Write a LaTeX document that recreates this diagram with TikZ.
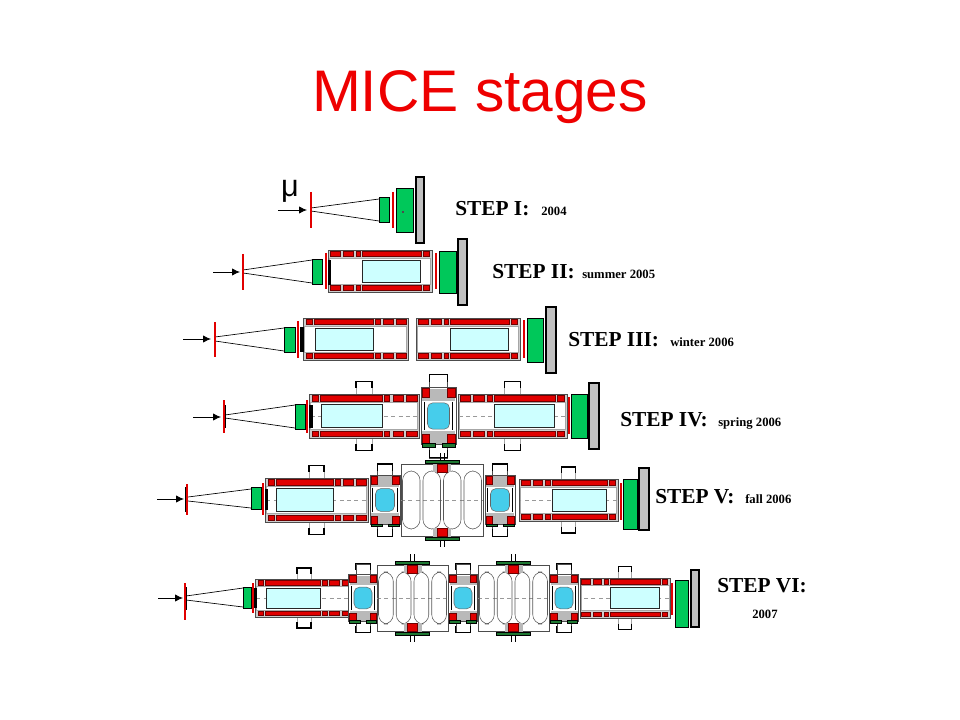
\documentclass[tikz,border=0pt]{standalone}
\usepackage{fontspec}
\setmainfont{Liberation Serif}
\newfontfamily\sansfam{Liberation Sans}
\usetikzlibrary{arrows.meta}
\definecolor{mtitle}{RGB}{238,0,0}
\definecolor{mred}{RGB}{225,0,0}
\definecolor{mdred}{RGB}{110,0,0}
\definecolor{mgreen}{RGB}{0,200,90}
\definecolor{mdgreen}{RGB}{30,120,50}
\definecolor{mgrey}{RGB}{192,192,192}
\definecolor{mframe}{RGB}{205,205,205}
\definecolor{mcyan}{RGB}{205,255,255}
\definecolor{mlens}{RGB}{70,205,235}
\tikzset{
  coil/.style={fill=mred, draw=mdred, line width=0.35pt},
  gbox/.style={fill=mgreen, draw=black, line width=0.5pt},
  plate/.style={fill=mgrey, draw=black, line width=1.6pt},
  rline/.style={draw=mred, line width=1.5pt},
  bbar/.style={fill=black},
  cbox/.style={fill=mcyan, draw=black!85, line width=0.5pt},
  beamline/.style={draw=black, line width=0.5pt},
  inarrow/.style={draw=black, line width=0.6pt, -{Latex[length=6pt,width=5.5pt]}},
  steplbl/.style={font=\fontsize{16}{18}\selectfont\bfseries, anchor=base west, inner sep=0pt},
  yearlbl/.style={font=\fontsize{9.5}{11}\selectfont\bfseries, anchor=base west, inner sep=0pt},
  bumpline/.style={draw=black, line width=1.1pt},
  cline/.style={draw=gray!80, line width=0.4pt, dash pattern=on 3pt off 2.5pt},
  outl/.style={draw=gray!60!black, line width=0.4pt},
  gbar/.style={fill=mdgreen, draw=black, line width=0.3pt},
}
% solenoid: x0, width, yc, height, direction (1 / -1), details (0/1)
\newcommand{\sol}[6]{%
\begin{scope}[shift={({#1+(1-(#5))/2*#2},#3)}, xscale={(#5)*#2/105}, yscale={#4/42}]
  \ifnum#6=1
    \fill[white] (45,-33) rectangle (60,-21);
    \fill[white] (45,21) rectangle (60,33);
    \draw[gray!70] (45,-21)--(45,-33)--(60,-33)--(60,-21);
    \draw[gray!70] (45,21)--(45,33)--(60,33)--(60,21);
    \draw[bumpline] (45,-27)--(45,-33)--(60,-33)--(60,-27);
    \draw[bumpline] (45,27)--(45,33)--(60,33)--(60,27);
  \fi
  \fill[mframe] (0,-21) rectangle (105,21);
  \draw[outl] (0,-21) rectangle (105,21);
  \fill[white] (1.5,-13) rectangle (103.5,13);
  \draw[gray!70, line width=0.3pt] (1.5,-13) rectangle (103.5,13);
  \ifnum#6=1 \draw[cline] (1.5,0) -- (103.5,0); \fi
  \foreach \a/\b in {3/9,11/70,72/77,80/90,93/103}{%
    \draw[coil] (\a,-19.5) rectangle (\b,-14.5);
    \draw[coil] (\a,14.5) rectangle (\b,19.5);}
  \draw[cbox] (12,-11) rectangle (70,11);
\end{scope}}
% absorber module: xc, yc, scale
\newcommand{\afc}[3]{%
\begin{scope}[shift={(#1,#2)}, scale=#3]
  \draw[fill=white, outl] (-8,-38) rectangle (8,-26);
  \draw[fill=white, outl] (-8,26) rectangle (8,38);
  \draw[black, line width=0.9pt] (-8,-31)--(-8,-38)--(8,-38)--(8,-31);
  \draw[black, line width=0.9pt] (-8,31)--(-8,38)--(8,38)--(8,31);
  \draw[fill=white, outl] (-16,-26) rectangle (16,26);
  \fill[gray!55] (-15,-25) rectangle (15,-14);
  \fill[gray!55] (-15,14) rectangle (15,25);
  \draw[coil] (-15,-25) rectangle (-8,-17);
  \draw[coil] (8,-25) rectangle (15,-17);
  \draw[coil] (-15,17) rectangle (-8,25);
  \draw[coil] (8,17) rectangle (15,25);
  \draw[black, line width=0.6pt] (-13,-13)--(-13,13) (13,-13)--(13,13);
  \draw[fill=mlens, draw=black!60, line width=0.4pt, rounded corners=4pt] (-10,-12) rectangle (10,12);
  \draw[gbar] (-15,25) rectangle (-3,28);
  \draw[gbar] (3,25) rectangle (15,28);
\end{scope}}
% RF module: x0, x1, yc, half height
\newcommand{\rf}[4]{%
\begin{scope}
  \pgfmathsetmacro\rfw{(#2-#1)/4}
  \pgfmathsetmacro\rfm{(#1+#2)/2}
  \draw[fill=white, outl] (#1,{#3-#4}) rectangle (#2,{#3+#4});
  \draw[cline] (#1,#3) -- (#2,#3);
  \foreach \i in {0,1,2,3}{%
    \draw[draw=gray!70!black, line width=0.4pt, rounded corners=7pt] ({#1+\i*\rfw+1.5},{#3-#4+7}) rectangle ({#1+(\i+1)*\rfw-1.5},{#3+#4-7});}
  \fill[gray!55] ({\rfm-9},{#3-#4-1}) rectangle ({\rfm+9},{#3-#4+8});
  \draw[coil] ({\rfm-5},{#3-#4}) rectangle ({\rfm+5},{#3-#4+8});
  \draw[gbar] ({\rfm-17},{#3-#4-4}) rectangle ({\rfm+17},{#3-#4-1});
  \draw[black, line width=0.6pt] ({\rfm-2},{#3-#4-4}) -- ({\rfm-2},{#3-#4-11}) ({\rfm+2},{#3-#4-4}) -- ({\rfm+2},{#3-#4-11});
  \fill[gray!55] ({\rfm-9},{#3+#4+1}) rectangle ({\rfm+9},{#3+#4-8});
  \draw[coil] ({\rfm-5},{#3+#4}) rectangle ({\rfm+5},{#3+#4-8});
  \draw[gbar] ({\rfm-17},{#3+#4+4}) rectangle ({\rfm+17},{#3+#4+1});
  \draw[black, line width=0.6pt] ({\rfm-2},{#3+#4+4}) -- ({\rfm-2},{#3+#4+11}) ({\rfm+2},{#3+#4+4}) -- ({\rfm+2},{#3+#4+11});
\end{scope}}
\begin{document}
\begin{tikzpicture}[x=0.75pt, y=-0.75pt]
\path[use as bounding box, fill=white] (0,0) rectangle (960,720);
\node[font=\sansfam\fontsize{44}{44}\selectfont, text=mtitle, anchor=base, inner sep=0pt] (title) at (480,112) {MICE stages};

% ---------- STEP I ----------
\node[font=\sansfam\fontsize{23}{23}\selectfont, anchor=base, inner sep=0pt] (mu) at (290,197) {μ};
\coordinate (a1s) at (278,210); \coordinate (a1e) at (307,210);
\draw[inarrow] (a1s) -- (a1e);
\draw[beamline] (311,208) -- (379,199) (311,211) -- (379,221);
\draw[rline] (311,192) -- (311,228);
\draw[gbox] (379,197) rectangle (389,222);
\draw[rline] (393,192) -- (393,228);
\draw[gbox] (396,188) rectangle (413,232);
\fill[black!70] (402,211) rectangle (404,213);
\draw[plate] (416,177) rectangle (424,243);
\node[steplbl] (s1) at (455,216) {STEP I:};
\node[yearlbl] (y1) at (541,216) {2004};

% ---------- STEP II ----------
\coordinate (a2s) at (213,272); \coordinate (a2e) at (240,272);
\draw[inarrow] (a2s) -- (a2e);
\draw[beamline] (243,270) -- (312,260) (243,273) -- (312,283);
\draw[rline] (243,254) -- (243,290);
\draw[gbox] (312,259) rectangle (322,284);
\draw[rline] (326,253) -- (326,289);
\sol{328}{104}{271}{42}{-1}{0}
\fill[black] (328,260) rectangle (331,285);
\draw[rline] (436,253) -- (436,289);
\draw[gbox] (439,251) rectangle (456,293);
\draw[plate] (458,239) rectangle (467,305);
\node[steplbl] (s2) at (492,279) {STEP II:};
\node[yearlbl] (y2) at (582,279) {summer 2005};

% ---------- STEP III ----------
\coordinate (a3s) at (183,339); \coordinate (a3e) at (211,339);
\draw[inarrow] (a3s) -- (a3e);
\draw[beamline] (215,337) -- (284,328) (215,341) -- (284,351);
\draw[rline] (215,322) -- (215,357);
\draw[gbox] (284,327) rectangle (295,352);
\draw[rline] (298,321) -- (298,358);
\sol{303}{105}{339}{42}{1}{0}
\sol{416}{104}{339}{42}{-1}{0}
\fill[black] (300,327) rectangle (304,352);
\draw[rline] (524,320) -- (524,358);
\draw[gbox] (527,318) rectangle (543,362);
\draw[plate] (546,307) rectangle (556,373);
\node[steplbl] (s3) at (568,346) {STEP III:};
\node[yearlbl] (y3) at (670,346) {winter 2006};

% ---------- STEP IV ----------
\coordinate (a4s) at (193,417); \coordinate (a4e) at (221,417);
\draw[inarrow] (a4s) -- (a4e);
\draw[beamline] (225,415) -- (295,405) (225,418) -- (295,428);
\fill[black] (223,405) rectangle (226,428);
\draw[rline] (224,400) -- (224,433);
\draw[gbox] (295,404) rectangle (305,429);
\draw[rline] (307,400) -- (307,433);
\sol{309}{110}{416}{44}{1}{1}
\fill[black] (309,405) rectangle (313,428);
\afc{438.5}{416}{1.1}
\sol{458}{109}{416}{44}{-1}{1}
\draw[rline] (569,397) -- (569,434);
\draw[gbox] (571,394) rectangle (587,438);
\draw[plate] (589,383) rectangle (599,449);
\node[steplbl] (s4) at (620,426) {STEP IV:};
\node[yearlbl] (y4) at (718,426) {spring 2006};

% ---------- STEP V ----------
\coordinate (a5s) at (157,499); \coordinate (a5e) at (184,499);
\draw[inarrow] (a5s) -- (a5e);
\draw[beamline] (188,497) -- (251,489) (188,501) -- (251,508);
\fill[black] (185,487) rectangle (188,512);
\draw[rline] (187,484) -- (187,515);
\draw[gbox] (251,487) rectangle (261,509);
\draw[rline] (263,483) -- (263,515);
\sol{265}{103}{500}{44}{1}{1}
\fill[black] (265,489) rectangle (268,510);
\afc{385}{500}{0.95}
\rf{401}{483}{500}{36}
\afc{500}{500}{0.95}
\sol{519}{99}{500}{42}{-1}{1}
\draw[rline] (621,483) -- (621,520);
\draw[gbox] (623,479) rectangle (637,529);
\draw[plate] (639,468) rectangle (649,530);
\node[steplbl] (s5) at (655,503) {STEP V:};
\node[yearlbl] (y5) at (745,503) {fall 2006};

% ---------- STEP VI ----------
\coordinate (a6s) at (158,598); \coordinate (a6e) at (183,598);
\draw[inarrow] (a6s) -- (a6e);
\draw[beamline] (186,596) -- (243,588) (186,600) -- (243,607);
\fill[black] (184,587) rectangle (187,610);
\draw[rline] (185,583) -- (185,620);
\draw[gbox] (243,587) rectangle (251,608);
\draw[rline] (253,583) -- (253,613);
\sol{255}{98}{598}{38}{1}{1}
\fill[black] (254,588) rectangle (257,608);
\afc{363}{598}{0.9}
\rf{377}{448}{598}{33}
\afc{463}{598}{0.9}
\rf{478}{549}{598}{33}
\afc{564}{598}{0.9}
\sol{580}{90}{598}{40}{-1}{1}
\draw[rline] (672,583) -- (672,615);
\draw[gbox] (675,580) rectangle (688,627);
\draw[plate] (691,570) rectangle (699,627);
\node[steplbl] (s6) at (717,592) {STEP VI:};
\node[yearlbl] (y6) at (752,618) {2007};
\end{tikzpicture}
\end{document}
